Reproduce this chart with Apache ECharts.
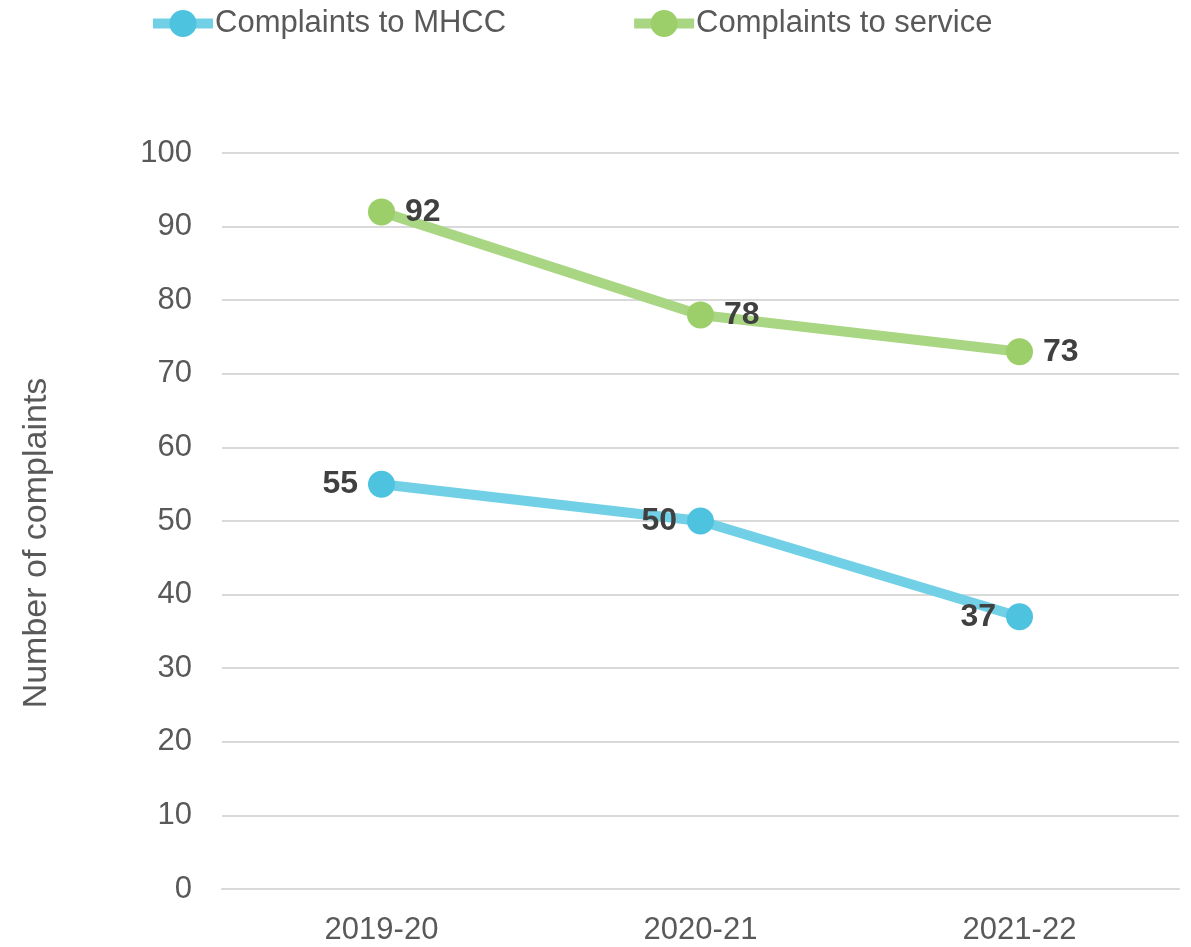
<!DOCTYPE html>
<html><head><meta charset="utf-8">
<script src="https://cdn.jsdelivr.net/npm/echarts@6/dist/echarts.min.js"></script>
<style>html,body{margin:0;padding:0;background:#fff}#c{width:1191px;height:947px}</style>
</head><body><div id="c"></div>
<script>
const categories = ['2019-20', '2020-21', '2021-22'];
const mhcc = [55, 50, 37];
const service = [92, 78, 73];
const yTicks = [0, 10, 20, 30, 40, 50, 60, 70, 80, 90, 100];

const chart = echarts.init(document.getElementById('c'), null, {renderer: 'canvas'});
const font = '"Liberation Sans", Arial, sans-serif';
chart.setOption({
  animation: false,
  backgroundColor: '#fff',
  textStyle: {fontFamily: font},
  legend: {
    top: 3, left: 143,
    itemGap: 123,
    itemWidth: 60, itemHeight: 34,
    lineStyle: {width: 10},
    textStyle: {fontSize: 31, color: '#595959', fontFamily: font, padding: [0, 0, 0, -3]},
    data: ['Complaints to MHCC', 'Complaints to service']
  },
  grid: {left: 222, right: 12, top: 153, bottom: 58},
  xAxis: {
    type: 'category', data: categories, boundaryGap: true,
    axisLine: {lineStyle: {color: '#d9d9d9', width: 2}},
    axisTick: {show: false},
    axisLabel: {fontSize: 31, color: '#595959', margin: 26, fontFamily: font}
  },
  yAxis: {
    type: 'value', min: yTicks[0], max: yTicks[yTicks.length - 1], interval: 10,
    name: 'Number of complaints', nameLocation: 'middle', nameGap: 168, nameRotate: 90,
    nameTextStyle: {fontSize: 34, color: '#595959', fontFamily: font, padding: [0, 44, 0, 0]},
    axisLine: {show: false}, axisTick: {show: false},
    axisLabel: {fontSize: 31, color: '#595959', margin: 30, fontFamily: font},
    splitLine: {lineStyle: {color: '#d9d9d9', width: 2}}
  },
  series: [
    {
      name: 'Complaints to MHCC', type: 'line', data: mhcc,
      symbol: 'circle', symbolSize: 27,
      itemStyle: {color: '#4dc3df'},
      lineStyle: {color: '#72d0e6', width: 10},
      label: {show: true, position: 'left', distance: 10, fontSize: 32, fontWeight: 'bold', color: '#404040', fontFamily: font}
    },
    {
      name: 'Complaints to service', type: 'line', data: service,
      symbol: 'circle', symbolSize: 27,
      itemStyle: {color: '#9ccf6a'},
      lineStyle: {color: '#a9d683', width: 10},
      label: {show: true, position: 'right', distance: 10, fontSize: 32, fontWeight: 'bold', color: '#404040', fontFamily: font}
    }
  ]
});
</script></body></html>
